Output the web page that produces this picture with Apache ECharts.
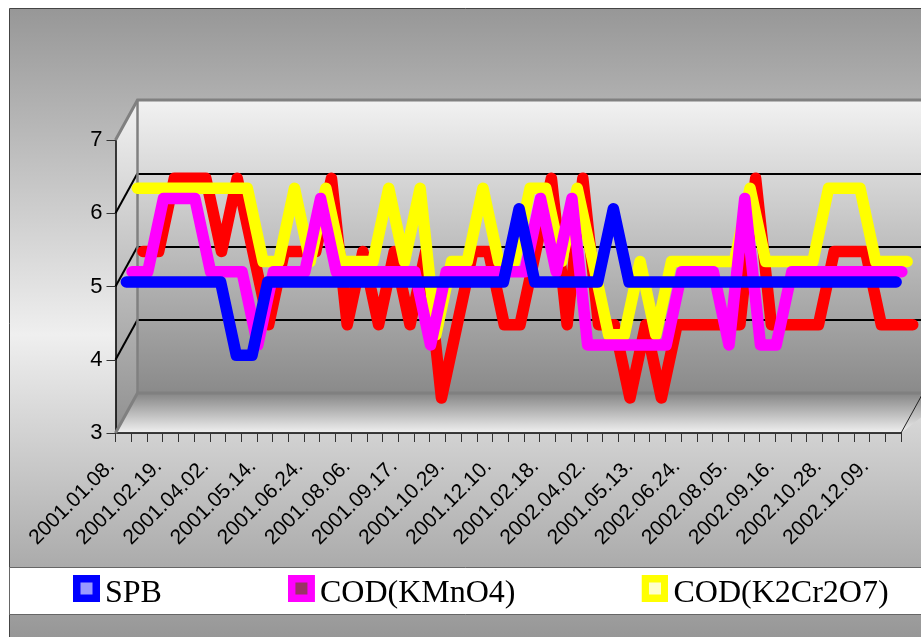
<!DOCTYPE html>
<html><head><meta charset="utf-8">
<style>html,body{margin:0;padding:0;background:#fff}#c{width:921px;height:637px}</style>
<script src="https://cdn.jsdelivr.net/npm/echarts@6/dist/echarts.min.js"></script>
</head><body><div id="c"></div>
<script>
const categories = ["2001.01.08.","2001.01.22.","2001.02.05.","2001.02.19.","2001.03.05.","2001.03.19.","2001.04.02.","2001.04.16.","2001.04.30.","2001.05.14.","2001.05.28.","2001.06.11.","2001.06.24.","2001.07.09.","2001.07.23.","2001.08.06.","2001.08.20.","2001.09.03.","2001.09.17.","2001.10.01.","2001.10.15.","2001.10.29.","2001.11.12.","2001.11.26.","2001.12.10.","2002.01.07.","2002.01.21.","2001.02.18.","2002.03.04.","2002.03.18.","2002.04.02.","2002.04.15.","2002.04.29.","2001.05.13.","2002.05.27.","2002.06.10.","2002.06.24.","2002.07.08.","2002.07.22.","2002.08.05.","2002.08.19.","2002.09.02.","2002.09.16.","2002.09.30.","2002.10.14.","2002.10.28.","2002.11.11.","2002.11.25.","2002.12.09.","2002.12.23."];
const spb  = [5,5,5,5,5,5,5,4,4,5,5,5,5,5,5,5,5,5,5,5,5,5,5,5,5,6,5,5,5,5,5,6,5,5,5,5,5,5,5,5,5,5,5,5,5,5,5,5,5,5];
const kmno = [5,5,6,6,6,5,5,5,4,5,5,5,6,5,5,5,5,5,5,4,5,5,5,5,5,5,6,5,6,4,4,4,4,4,4,5,5,5,4,6,4,4,5,5,5,5,5,5,5,5];
const k2cr = [6,6,6,6,6,6,6,6,5,5,6,5,6,5,5,5,6,5,6,4,5,5,6,5,5,6,6,5,6,5,4,4,5,4,5,5,5,5,5,6,5,5,5,5,6,6,6,5,5,5];
const red  = [5,5,6,6,6,5,6,5,4,5,5,5,6,4,5,4,5,4,5,3,4,5,5,4,4,5,6,4,6,4,4,3,4,3,4,4,4,4,4,6,4,4,4,4,5,5,5,4,4,4];
const legendNames = ["SPB","COD(KMnO4)","COD(K2Cr2O7)"];
const yMin = 3, yMax = 7, yStep = 1;

const front = {x:115.5, y:140, w:785.5, h:293};
const depth = {x:22, y:-40};
const backLeft = front.x + depth.x, backTop = front.y + depth.y;
const serifs = "'Liberation Serif','Times New Roman',serif", sans = "'Liberation Sans',Arial,sans-serif";

function vGrad(stops){return {type:'linear',x:0,y:0,x2:0,y2:1,colorStops:stops.map(s=>({offset:s[0],color:s[1]}))};}
function swatch(outer,inner){
  const svg = `<svg xmlns="http://www.w3.org/2000/svg" width="27" height="37"><rect width="27" height="27" fill="${outer}"/><rect x="7.5" y="7.5" width="12" height="12" fill="${inner}"/></svg>`;
  return 'image://data:image/svg+xml;charset=utf-8,' + encodeURIComponent(svg);
}
const layers = [
  {name:"BOD", data:red, color:'#ff0000', dx:19.6, dy:-35},
  {name:legendNames[2], data:k2cr, color:'#ffff00', dx:14, dy:-25},
  {name:legendNames[1], data:kmno, color:'#ff00ff', dx:8.7, dy:-14.8},
  {name:legendNames[0], data:spb, color:'#0000ff', dx:3, dy:-4.5}
];
const grids = [
  {left:front.x, top:front.y, width:front.w, height:front.h},
  {left:backLeft, top:backTop, width:front.w+20, height:front.h, show:true, borderWidth:0,
   backgroundColor:vGrad([[0,'#f2f2f2'],[1,'#8a8a8a']])}
];
const xAxes = [
  {gridIndex:0, type:'category', data:categories, boundaryGap:true,
   axisLine:{lineStyle:{color:'#000',width:1.5}},
   axisTick:{show:true,interval:0,length:9,lineStyle:{color:'#333',width:1}},
   axisLabel:{interval:2,rotate:45,fontFamily:sans,fontSize:21,color:'#000',margin:18,padding:[0,17,0,0]}},
  {gridIndex:1, type:'category', data:categories, show:false}
];
const yAxes = [
  {gridIndex:0, type:'value', min:yMin, max:yMax, interval:yStep,
   axisLine:{show:true,lineStyle:{color:'#000',width:1.5}},
   axisTick:{show:true,length:9,lineStyle:{color:'#333',width:1}},
   axisLabel:{fontFamily:sans,fontSize:22,color:'#000',margin:13},
   splitLine:{show:false}},
  {gridIndex:1, type:'value', min:yMin, max:yMax, interval:yStep,
   axisLine:{show:false},axisTick:{show:false},axisLabel:{show:false},
   splitLine:{show:true,lineStyle:{color:'#000',width:2}}}
];
const series = [];
layers.forEach((l,i)=>{
  const g = i+2;
  grids.push({left:front.x+l.dx, top:front.y+l.dy, width:front.w, height:front.h});
  xAxes.push({gridIndex:g,type:'category',data:categories,show:false});
  yAxes.push({gridIndex:g,type:'value',min:yMin,max:yMax,show:false,splitLine:{show:false}});
  series.push({name:l.name,type:'line',xAxisIndex:g,yAxisIndex:g,data:l.data,clip:false,
    showSymbol:false,symbol:'none',z:10+i,
    lineStyle:{color:l.color,width:11.5,cap:'round',join:'round'},itemStyle:{color:l.color}});
});
const unitY = front.h/(yMax-yMin);
const wallDiagonals = [4,5,6].map(v=>({type:'line',z:-2,
  shape:{x1:front.x,y1:front.y+(yMax-v)*unitY,x2:backLeft,y2:backTop+(yMax-v)*unitY},
  style:{stroke:'#000',lineWidth:2}}));
const chart = echarts.init(document.getElementById('c'),null,{renderer:'canvas'});
chart.setOption({
  animation:false, backgroundColor:'#fff',
  grid:grids, xAxis:xAxes, yAxis:yAxes, series:series,
  legend:{left:73, top:575, padding:0, itemWidth:27, itemHeight:37, itemGap:126, selectedMode:false,
    textStyle:{fontFamily:serifs,fontSize:32,color:'#000'},
    data:[{name:legendNames[0],icon:swatch('#0000ff','#9999ff')},
          {name:legendNames[1],icon:swatch('#ff00ff','#993366')},
          {name:legendNames[2],icon:swatch('#ffff00','#ffffcc')}]},
  graphic:[
    {type:'rect',z:-10,shape:{x:9.5,y:8.5,width:930,height:640},
      style:{fill:vGrad([[0,'#979797'],[0.51,'#efefef'],[1,'#939393']]),stroke:'#444',lineWidth:1}},
    {type:'polygon',z:-3,shape:{points:[[front.x,front.y],[backLeft,backTop],[backLeft,backTop+front.h],[front.x,front.y+front.h]]},
      style:{fill:vGrad([[0,'#f2f2f2'],[1,'#909090']])}},
    {type:'polygon',z:-3,shape:{points:[[backLeft,backTop+front.h],[backLeft+front.w+30,backTop+front.h],[front.x+front.w,front.y+front.h],[front.x,front.y+front.h]]},
      style:{fill:vGrad([[0,'#858585'],[1,'#f0f0f0']])}},
    ...wallDiagonals,
    {type:'polyline',z:1,shape:{points:[[front.x,front.y+front.h],[backLeft,backTop+front.h],[940,backTop+front.h]]},style:{stroke:'#808080',lineWidth:3,fill:null}},
    {type:'polyline',z:1,shape:{points:[[front.x,front.y],[backLeft,backTop],[940,backTop]]},style:{stroke:'#808080',lineWidth:3,fill:null}},
    {type:'line',z:1,shape:{x1:backLeft,y1:backTop,x2:backLeft,y2:backTop+front.h},style:{stroke:'#808080',lineWidth:2.5}},
    {type:'line',z:-1,shape:{x1:front.x+front.w,y1:front.y+front.h,x2:front.x+front.w+22,y2:backTop+front.h},style:{stroke:'#222',lineWidth:1}},
    {type:'rect',z:-1,shape:{x:9.5,y:567.5,width:930,height:47},style:{fill:'#fff',stroke:'#666',lineWidth:1}}
  ]
});
</script></body></html>
